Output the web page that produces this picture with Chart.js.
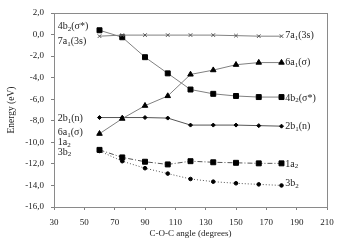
<!DOCTYPE html>
<html>
<head>
<meta charset="utf-8">
<script src="https://cdn.jsdelivr.net/npm/chart.js@4.4.1/dist/chart.umd.min.js"></script>
<style>
  body { margin: 0; background: #fff; }
  #wrap { width: 352px; height: 245px; position: relative; }
</style>
</head>
<body>
<div id="wrap"><canvas id="myChart"></canvas></div>
<script>
// ===== Data =====
const angles = [60, 75, 90, 105, 120, 135, 150, 165, 180];
const e7a1 = [-0.15, -0.05, -0.05, -0.05, -0.05, -0.05, -0.1, -0.15, -0.15];
const e4b2 = [0.4, -0.25, -2.1, -3.6, -5.1, -5.5, -5.7, -5.8, -5.8];
const e6a1 = [-9.2, -7.8, -6.6, -5.7, -3.7, -3.3, -2.8, -2.6, -2.6];
const e2b1 = [-7.7, -7.7, -7.7, -7.75, -8.4, -8.4, -8.4, -8.45, -8.5];
const e1a2 = [-10.7, -11.4, -11.8, -12.05, -11.75, -11.85, -11.9, -11.95, -11.95];
const e3b2 = [-10.8, -11.75, -12.4, -12.9, -13.4, -13.65, -13.8, -13.9, -14.0];

// orbital names, "_" marks a subscript digit
const names = ['7a_1(3s)', '4b_2(σ*)', '6a_1(σ)', '2b_1(n)', '1a_2', '3b_2'];
// left hand labels sit at these energies (text centre)
const leftLabelY = [-0.65, 0.75, -9.1, -7.8, -10.0, -10.9];
// right hand labels sit next to the last point
const rightLabelY = [-0.1, -5.9, -2.6, -8.5, -12.0, -13.85];

const serif = '"Liberation Serif", "DejaVu Serif", serif';

function pts(vals) {
    return angles.map((a, i) => ({ x: a, y: vals[i] }));
}

// draw a label with subscript digits
function drawSub(ctx, str, x, y, size) {
    let cx = x;
    for (let i = 0; i < str.length; i++) {
        let ch = str[i];
        let sub = false;
        if (ch === '_') { i++; ch = str[i]; sub = true; }
        ctx.font = (sub ? size * 0.7 : size) + 'px ' + serif;
        ctx.fillText(ch, cx, sub ? y + size * 0.25 : y);
        cx += ctx.measureText(ch).width;
    }
}

const labelPlugin = {
    id: 'labels',
    afterDatasetsDraw(chart) {
        const ctx = chart.ctx;
        const xs = chart.scales.x, ys = chart.scales.y;
        const a = chart.chartArea;
        ctx.save();
        // box round plot
        ctx.strokeStyle = '#8a8a8a';
        ctx.lineWidth = 1;
        ctx.strokeRect(Math.round(a.left) + 0.5, Math.round(a.top) + 0.5,
            Math.round(a.right - a.left), Math.round(a.bottom - a.top));
        ctx.fillStyle = '#222';
        ctx.textBaseline = 'middle';
        ctx.textAlign = 'left';
        names.forEach((n, i) => {
            drawSub(ctx, n, xs.getPixelForValue(32.5), ys.getPixelForValue(leftLabelY[i]), 10);
            drawSub(ctx, n, xs.getPixelForValue(182.5), ys.getPixelForValue(rightLabelY[i]), 10);
        });
        ctx.restore();
    }
};

const lineGray = '#808080';

var myChart = document.getElementById('myChart').getContext('2d');

var lineChart = new Chart(myChart, {
    type: 'line',
    data: {
        datasets: [
            {
                data: pts(e7a1), borderColor: lineGray, borderWidth: 1,
                pointStyle: 'crossRot', pointRadius: 2.5, pointBorderColor: '#555', pointBorderWidth: 1,
            },
            {
                data: pts(e4b2), borderColor: lineGray, borderWidth: 1,
                pointStyle: 'rect', pointRadius: 3.5, pointBackgroundColor: '#000', pointBorderColor: '#000',
            },
            {
                data: pts(e6a1), borderColor: lineGray, borderWidth: 1,
                pointStyle: 'triangle', pointRadius: 3.2, pointBackgroundColor: '#000', pointBorderColor: '#000',
            },
            {
                data: pts(e2b1), borderColor: '#555', borderWidth: 1,
                pointStyle: 'rectRot', pointRadius: 2, pointBackgroundColor: '#000', pointBorderColor: '#000',
            },
            {
                data: pts(e1a2), borderColor: '#555', borderWidth: 1, borderDash: [5, 2, 1, 2],
                pointStyle: 'rect', pointRadius: 3.5, pointBackgroundColor: '#000', pointBorderColor: '#000',
            },
            {
                data: pts(e3b2), borderColor: '#555', borderWidth: 1, borderDash: [1, 2],
                pointStyle: 'circle', pointRadius: 1.8, pointBackgroundColor: '#000', pointBorderColor: '#000',
            },
        ],
    },
    options: {
        responsive: true,
        maintainAspectRatio: false,
        animation: false,
        layout: { padding: { left: 0, right: 25, top: 13, bottom: 0 } },
        plugins: {
            legend: { display: false },
            tooltip: { enabled: false },
        },
        scales: {
            x: {
                type: 'linear',
                min: 30, max: 210,
                afterFit: (s) => { s.height = 38; },
                border: { color: lineGray },
                grid: { drawOnChartArea: false, tickLength: 3, color: lineGray },
                ticks: {
                    stepSize: 20, color: '#222', padding: 7, maxRotation: 0,
                    font: { family: serif, size: 9 },
                },
                title: {
                    display: true, text: 'C-O-C angle (degrees)', color: '#222',
                    font: { family: serif, size: 9 }, padding: { top: 0, bottom: 6 },
                },
            },
            y: {
                min: -16, max: 2,
                afterFit: (s) => { s.width = 54; },
                border: { color: lineGray },
                grid: { drawOnChartArea: false, tickLength: 3, color: lineGray },
                ticks: {
                    stepSize: 2, color: '#222', padding: 7,
                    font: { family: serif, size: 9 },
                    callback: (v) => v.toFixed(1).replace('.', ','),
                },
                title: {
                    display: true, text: 'Energy (eV)', color: '#222',
                    font: { family: serif, size: 9.5 }, padding: { top: 6, bottom: 0 },
                },
            },
        },
    },
    plugins: [labelPlugin],
});
</script>
</body>
</html>
